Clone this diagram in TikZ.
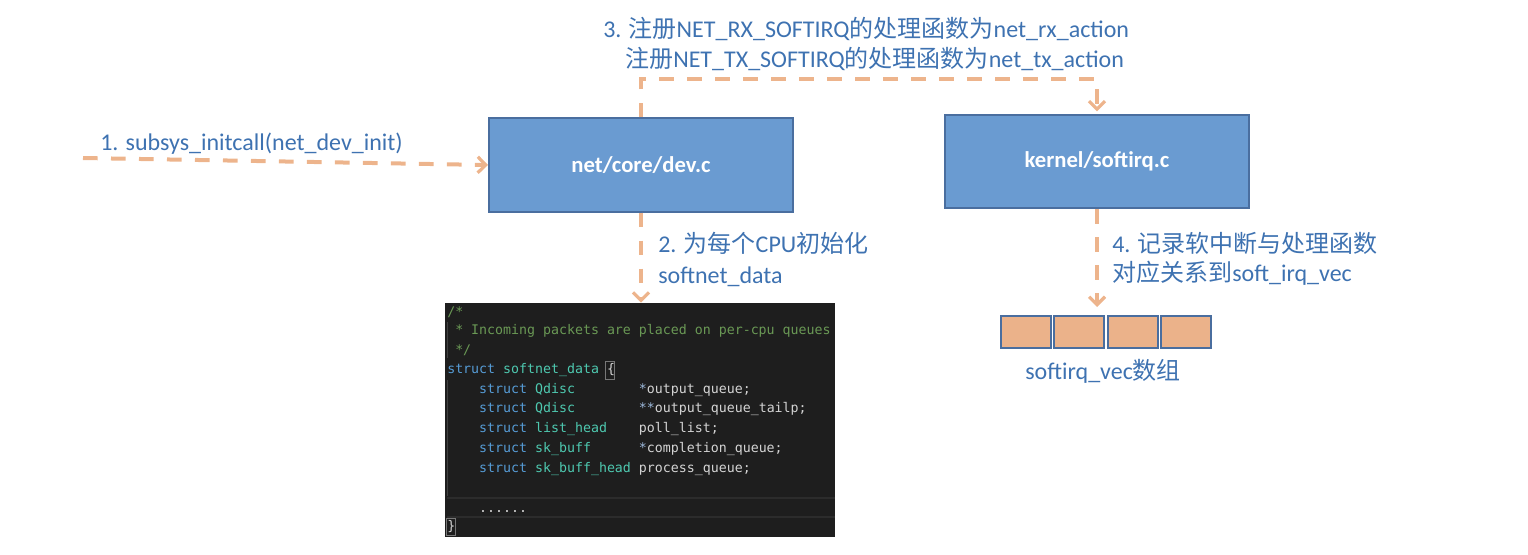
\documentclass[tikz,border=0pt]{standalone}
\usepackage{fontspec}
\setmainfont{Carlito}
\newfontfamily\cjk{Noto Sans CJK SC}
\newfontfamily\codefont{DejaVu Sans Mono}
\usetikzlibrary{arrows.meta}
\definecolor{txtblue}{HTML}{3E72B1}
\definecolor{boxfill}{HTML}{6A9BD1}
\definecolor{boxline}{HTML}{4A6E9F}
\definecolor{arrowc}{HTML}{EDB48C}
\definecolor{cellfill}{HTML}{EBB28A}
\definecolor{codebg}{HTML}{1E1E1E}
\definecolor{ccomment}{HTML}{6A9955}
\definecolor{ckey}{HTML}{569CD6}
\definecolor{ctype}{HTML}{4EC9B0}
\definecolor{cname}{HTML}{D4D4D4}
\definecolor{cstar}{HTML}{9CB8DA}
\definecolor{cguide}{HTML}{404040}
\definecolor{csep}{HTML}{2C2C2C}
\definecolor{cmatch}{HTML}{787878}
\tikzset{
  flow/.style={draw=arrowc, line width=3pt, dash pattern=on 11pt off 10pt,
    -{Straight Barb[length=6pt,width=12pt,line width=2.4pt]}},
  lbl/.style={text=txtblue, font=\fontsize{18}{21}\selectfont, inner sep=0pt, anchor=base west},
  srcbox/.style={draw=boxline, line width=1.5pt, fill=boxfill, minimum width=228pt,
    minimum height=70pt, inner sep=0pt, text=white, font=\bfseries\fontsize{17}{20}\selectfont},
  cell/.style={draw=boxline, line width=1.5pt, fill=cellfill, minimum width=37.5pt,
    minimum height=24pt, inner sep=0pt},
  codeln/.style={inner sep=0pt, anchor=base west, text=cname, font=\codefont\fontsize{9.95}{12}\selectfont},
}
\begin{document}
\begin{tikzpicture}[x=0.75pt,y=-0.75pt]
\useasboundingbox (0,0) rectangle (1528,554);
% main boxes
\node[srcbox] (dev) at (641,165) {net/core/dev.c};
\node[srcbox, minimum height=69.75pt] (sirq) at (1097,161.5) {kernel/softirq.c};
% code block
\node[fill=codebg, minimum width=292.5pt, minimum height=175.5pt, inner sep=0pt] (code) at (640,420) {};
\draw[cguide, line width=0.6pt] (447.5,322) -- (447.5,358);
\draw[cguide, line width=0.6pt] (447.5,380) -- (447.5,496);
\draw[csep, line width=0.8pt] (447,498) -- (835,498);
\draw[csep, line width=0.8pt] (447,517) -- (835,517);
\node[codeln, text=ccomment] (c1) at (447,316) {/*};
\node[codeln, text=ccomment] (c2) at (447,334) {~* Incoming packets are placed on per-cpu queues};
\node[codeln, text=ccomment] (c3) at (447,354) {~*/};
\node[codeln] (c4) at (447,373) {\textcolor{ckey}{struct}~\textcolor{ctype}{softnet\_data}~\{};
\node[codeln] (c5) at (447,393) {~~~~\textcolor{ckey}{struct}~\textcolor{ctype}{Qdisc}~~~~~~~~\textcolor{cstar}{*}output\_queue;};
\node[codeln] (c6) at (447,412) {~~~~\textcolor{ckey}{struct}~\textcolor{ctype}{Qdisc}~~~~~~~~\textcolor{cstar}{**}output\_queue\_tailp;};
\node[codeln] (c7) at (447,432) {~~~~\textcolor{ckey}{struct}~\textcolor{ctype}{list\_head}~~~~poll\_list;};
\node[codeln] (c8) at (447,452) {~~~~\textcolor{ckey}{struct}~\textcolor{ctype}{sk\_buff}~~~~~~\textcolor{cstar}{*}completion\_queue;};
\node[codeln] (c9) at (447,472) {~~~~\textcolor{ckey}{struct}~\textcolor{ctype}{sk\_buff\_head}~process\_queue;};
\node[codeln] (c10) at (447,512) {~~~~......};
\node[codeln] (c11) at (447,530) {\}};
\draw[cmatch, line width=0.6pt] (605,361) rectangle (614,379);
\draw[cmatch, line width=0.6pt] (446,518) rectangle (455,535);
% array
\node[cell] (a1) at (1026,332) {};
\node[cell] (a2) at (1079,332) {};
\node[cell] (a3) at (1133,332) {};
\node[cell] (a4) at (1186,332) {};
% labels
\node[lbl] (t1) at (100,150) {1. subsys\_initcall(net\_dev\_init)};
\node[lbl] (t3a) at (603,37) {3. {\cjk 注册}NET\_RX\_SOFTIRQ{\cjk 的处理函数为}net\_rx\_action};
\node[lbl] (t3b) at (625,67) {{\cjk 注册}NET\_TX\_SOFTIRQ{\cjk 的处理函数为}net\_tx\_action};
\node[lbl] (t2a) at (658,252) {2. {\cjk 为每个}CPU{\cjk 初始化}};
\node[lbl] (t2b) at (658,283) {softnet\_data};
\node[lbl] (t4a) at (1112,252) {4. {\cjk 记录软中断与处理函数}};
\node[lbl] (t4b) at (1112,281) {{\cjk 对应关系到}soft\_irq\_vec};
\node[lbl] (t5) at (1025,379) {softirq\_vec{\cjk 数组}};
% connectors
\coordinate (s1) at (83,158);
\draw[flow] (s1) -- (dev.west);
\draw[flow, shorten >=2pt] (dev.north) -- ++(0,-38) -| (sirq.north);
\draw[flow] (dev.south) -- (dev.south |- code.north);
\draw[flow, shorten >=6pt] (sirq.south) -- (sirq.south |- a2.north);
\end{tikzpicture}
\end{document}
